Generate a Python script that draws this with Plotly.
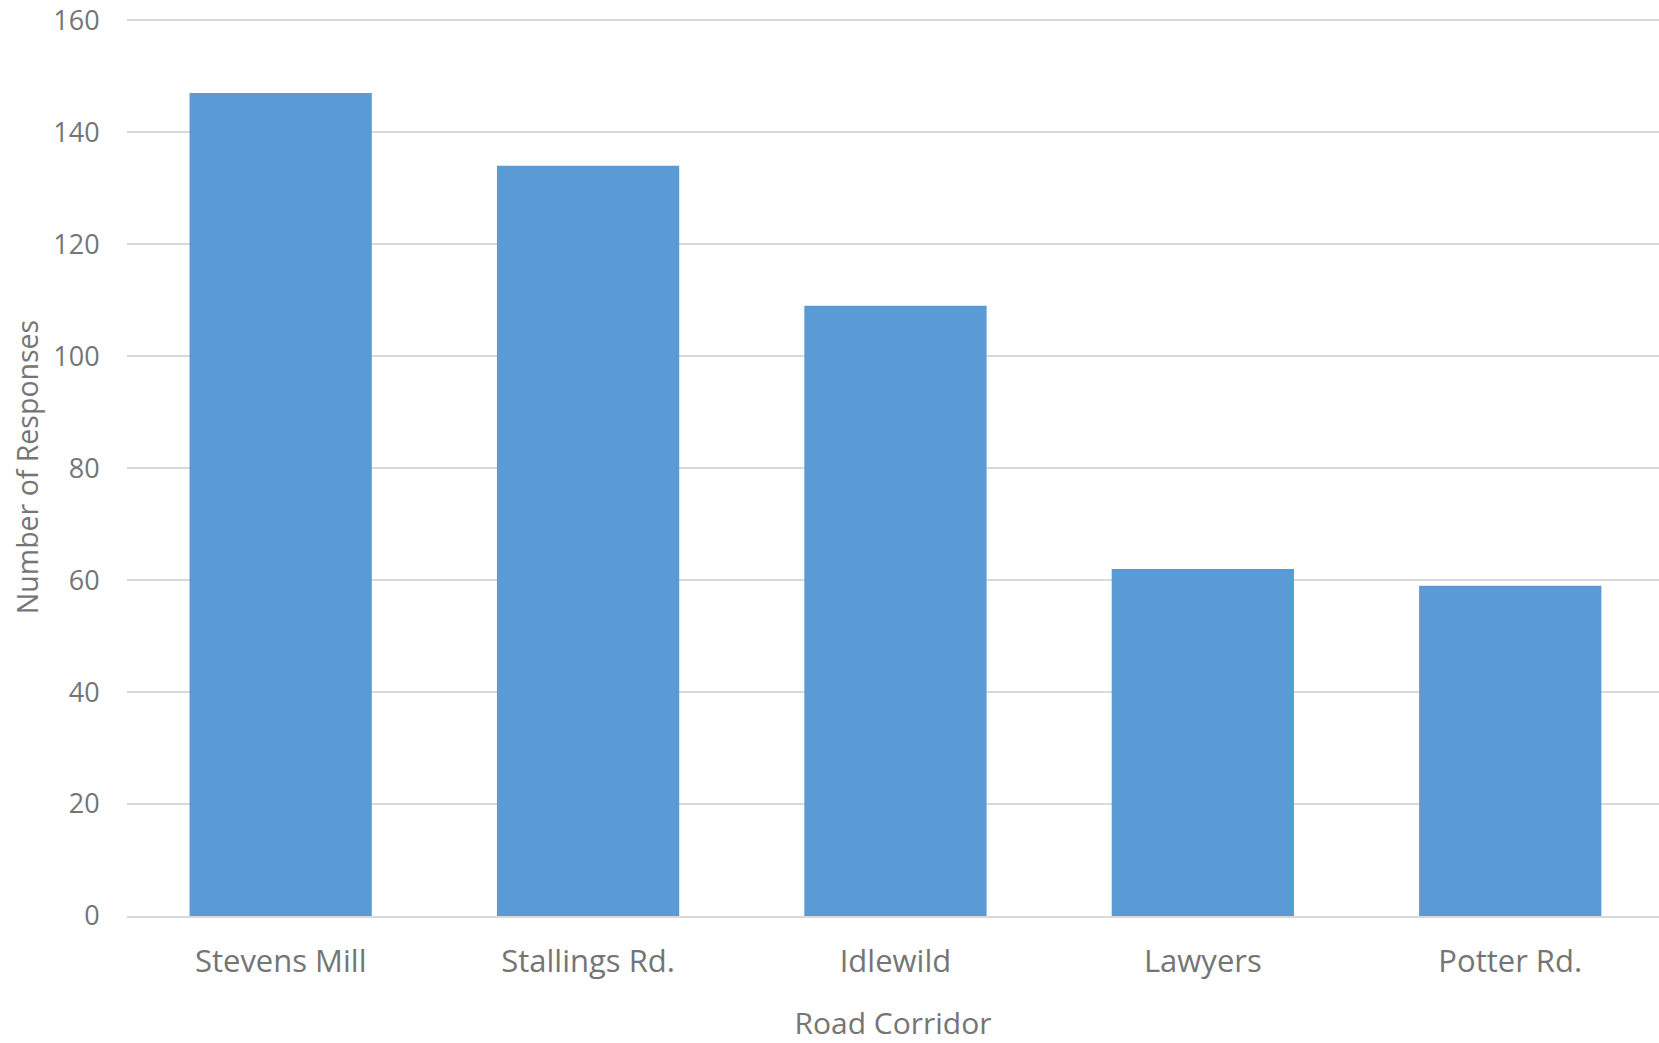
import plotly.graph_objects as go

categories = ["Stevens Mill", "Stallings Rd.", "Idlewild", "Lawyers", "Potter Rd."]
responses = [147, 134, 109, 62, 59]
y_ticks = [0, 20, 40, 60, 80, 100, 120, 140, 160]

text_color = "#757575"
font_family = "Open Sans, Noto Sans, sans-serif"

fig = go.Figure(
    go.Bar(
        x=categories,
        y=responses,
        marker=dict(color="#5B9BD5", line=dict(width=0)),
        width=0.593,
    )
)

fig.update_layout(
    width=1659,
    height=1043,
    paper_bgcolor="white",
    plot_bgcolor="white",
    margin=dict(l=127, r=0, t=18, b=127),
    showlegend=False,
    font=dict(family=font_family, color=text_color),
)

fig.update_xaxes(
    automargin=False,
    range=[-0.5, 4.484],
    showgrid=False,
    showline=True,
    linecolor="#D9D9D9",
    linewidth=2,
    ticks="outside",
    ticklen=17,
    tickcolor="rgba(0,0,0,0)",
    tickfont=dict(size=31, color=text_color),
    title=dict(text="Road Corridor", font=dict(size=30, color=text_color), standoff=46),
)

fig.update_yaxes(
    automargin=False,
    range=[0, 160.4],
    tickvals=y_ticks,
    showgrid=True,
    gridcolor="#D9D9D9",
    gridwidth=2,
    zeroline=False,
    showline=False,
    ticks="outside",
    ticklen=21,
    tickcolor="rgba(0,0,0,0)",
    tickfont=dict(size=27, color=text_color),
    title=dict(text="Number of Responses", font=dict(size=28.5, color=text_color), standoff=6),
)

# remove the browser's default 8px body margin so the figure fills the window
fig.write_html(
    "out.html",
    config={"displayModeBar": False},
    post_script="document.body.style.margin='0';",
)
